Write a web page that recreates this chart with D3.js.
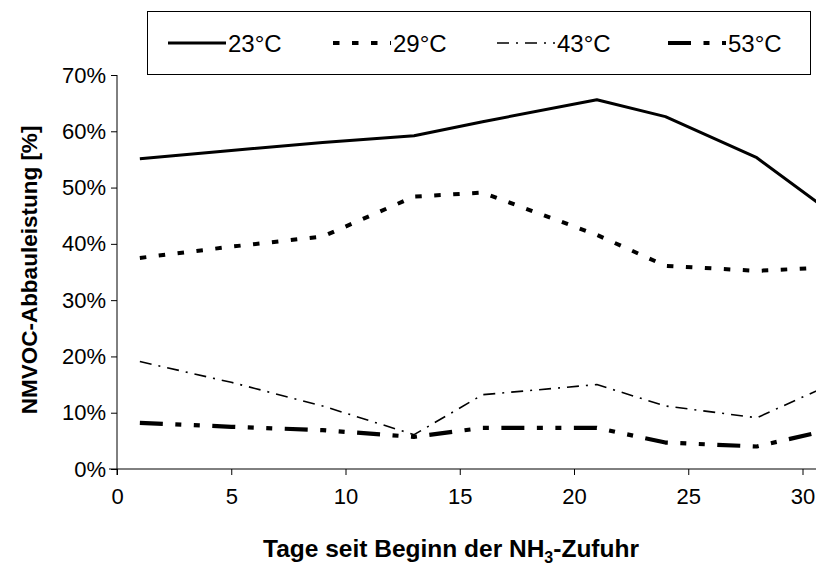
<!DOCTYPE html>
<html>
<head>
<meta charset="utf-8">
<script src="https://cdn.jsdelivr.net/npm/d3@7"></script>
<style>
  html, body { margin: 0; padding: 0; background: #fff; }
  svg { display: block; font-family: "Liberation Sans", Arial, sans-serif; }
</style>
</head>
<body>
<svg id="chart" width="816" height="570"></svg>
<script>
// Days since start of NH3 feed
const days = [1, 5, 9, 13, 16, 21, 24, 28, 31];
// NMVOC degradation (fraction)
const s23 = [0.551, 0.566, 0.580, 0.592, 0.617, 0.656, 0.626, 0.553, 0.463];
const s29 = [0.375, 0.395, 0.413, 0.484, 0.491, 0.416, 0.361, 0.352, 0.358];
const s43 = [0.191, 0.154, 0.112, 0.061, 0.132, 0.150, 0.112, 0.091, 0.146];
const s53 = [0.082, 0.075, 0.069, 0.057, 0.073, 0.073, 0.047, 0.040, 0.068];
const seriesNames = ["23°C", "29°C", "43°C", "53°C"];
const xTicks = [0, 5, 10, 15, 20, 25, 30];
const yTicks = [0, 0.1, 0.2, 0.3, 0.4, 0.5, 0.6, 0.7];

const styles = [
  { width: 3, dash: null },
  { width: 4, dash: "6.5,12.5" },
  { width: 1.6, dash: "12,7,2,7" },
  { width: 4.2, dash: "23,12.5,6,12.5,6,12.5" }
];

const svg = d3.select("#chart");
const x = d3.scaleLinear().domain([0, 30]).range([117, 802.5]);
const y = d3.scaleLinear().domain([0, 0.7]).range([469, 75]);

// axes
const xAxis = d3.axisBottom(x).tickValues(xTicks).tickSize(6).tickSizeOuter(0).tickPadding(13);
const gx = svg.append("g").attr("transform", `translate(0,${y(0)})`).call(xAxis);
gx.select(".domain").remove();
gx.append("line").attr("x1", 109).attr("x2", 830).attr("y1", 0).attr("y2", 0)
  .attr("stroke", "#000").attr("stroke-width", 1);
gx.selectAll(".tick line").attr("stroke", "#000");
gx.selectAll(".tick text").attr("font-size", 22).attr("fill", "#000")
  .attr("font-family", "Liberation Sans, Arial, sans-serif");

const yAxis = d3.axisLeft(y).tickValues(yTicks).tickSize(6).tickSizeOuter(0)
  .tickPadding(5).tickFormat(d3.format(".0%"));
const gy = svg.append("g").attr("transform", `translate(${x(0)},0)`).call(yAxis);
gy.select(".domain").attr("stroke", "#000").attr("d", `M0,${y(0.7)}V${y(0) + 6}`);
gy.selectAll(".tick line").attr("stroke", "#000");
gy.selectAll(".tick text").attr("font-size", 22).attr("fill", "#000")
  .attr("font-family", "Liberation Sans, Arial, sans-serif");

// lines
const allSeries = [s23, s29, s43, s53];
const line = d3.line().x(d => x(d[0])).y(d => y(d[1]));
allSeries.forEach((s, i) => {
  const pts = days.map((d, j) => [d, s[j]]);
  svg.append("path").datum(pts).attr("d", line)
    .attr("fill", "none").attr("stroke", "#000")
    .attr("stroke-width", styles[i].width)
    .attr("stroke-dasharray", styles[i].dash)
    .attr("stroke-linejoin", "round");
});

// axis titles
const xt = svg.append("text").attr("x", 451).attr("y", 557).attr("text-anchor", "middle")
  .attr("font-size", 24.5).attr("font-weight", "bold");
xt.append("tspan").text("Tage seit Beginn der NH");
xt.append("tspan").attr("font-size", 16).attr("dy", 6).text("3");
xt.append("tspan").attr("dy", -6).text("-Zufuhr");

svg.append("text").attr("transform", `translate(37,${(y(0) + y(0.7)) / 2 - 2}) rotate(-90)`)
  .attr("text-anchor", "middle").attr("font-size", 22.5).attr("font-weight", "bold")
  .text("NMVOC-Abbauleistung [%]");

// legend
const lg = svg.append("g");
lg.append("rect").attr("x", 147.5).attr("y", 11.5).attr("width", 663).attr("height", 63)
  .attr("fill", "#fff").attr("stroke", "#000").attr("stroke-width", 1);
const legX = [168, 333, 497, 668];
seriesNames.forEach((n, i) => {
  lg.append("line").attr("x1", legX[i]).attr("x2", legX[i] + 58)
    .attr("y1", 43).attr("y2", 43).attr("stroke", "#000")
    .attr("stroke-width", styles[i].width).attr("stroke-dasharray", styles[i].dash);
  lg.append("text").attr("x", legX[i] + 60).attr("y", 51.5).attr("font-size", 24).text(n);
});
</script>
</body>
</html>
